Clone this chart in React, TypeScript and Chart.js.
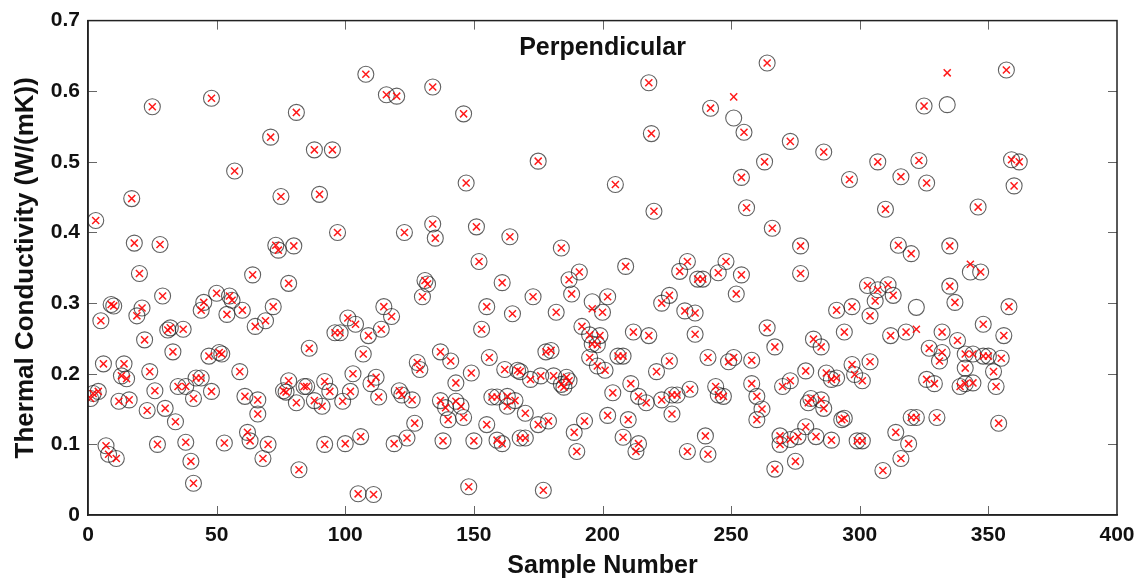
import React, { useEffect, useRef } from "react";
import { Chart, registerables } from "chart.js";

Chart.register(...registerables);

const chartTitle = "Perpendicular";
const xAxisTitle = "Sample Number";
const yAxisTitle = "Thermal Conductivity (W/(mK))";
const xTickMin = 0;
const xTickMax = 400;
const xTickStep = 50;
const yTickMin = 0;
const yTickMax = 0.7;
const yTickStep = 0.1;

const sampleNumbers = [
  1, 2, 3, 4, 5, 6, 7, 8, 9, 10,
  11, 12, 13, 14, 15, 16, 17, 18, 19, 20,
  21, 22, 23, 24, 25, 26, 27, 28, 29, 30,
  31, 32, 33, 34, 35, 37, 38, 38, 40, 41,
  41, 42, 44, 44, 45, 47, 48, 48, 50, 51,
  52, 53, 54, 55, 56, 57, 59, 60, 61, 62,
  63, 64, 65, 66, 66, 68, 69, 70, 71, 72,
  73, 74, 75, 76, 77, 78, 78, 80, 81, 81,
  82, 84, 85, 86, 88, 88, 90, 91, 92, 92,
  94, 95, 96, 97, 98, 99, 100, 101, 102, 103,
  104, 105, 106, 107, 108, 109, 110, 111, 112, 113,
  114, 115, 116, 118, 119, 120, 121, 122, 123, 124,
  126, 127, 128, 129, 130, 131, 132, 134, 134, 135,
  137, 137, 138, 139, 140, 141, 143, 143, 145, 146,
  146, 147, 148, 149, 150, 151, 152, 153, 155, 155,
  156, 157, 159, 159, 161, 161, 162, 163, 163, 164,
  165, 166, 167, 168, 168, 170, 170, 172, 173, 175,
  175, 176, 177, 178, 179, 180, 181, 182, 184, 184,
  185, 186, 187, 187, 188, 189, 190, 191, 192, 193,
  195, 195, 196, 196, 198, 198, 199, 200, 201, 202,
  202, 204, 205, 206, 208, 208, 209, 210, 211, 212,
  213, 214, 214, 217, 218, 218, 219, 220, 221, 223,
  223, 226, 226, 227, 227, 229, 230, 232, 233, 233,
  234, 236, 236, 237, 239, 240, 241, 241, 242, 244,
  245, 245, 247, 248, 249, 251, 251, 252, 254, 254,
  255, 256, 258, 258, 260, 260, 262, 263, 264, 264,
  266, 267, 267, 269, 269, 270, 273, 273, 273, 275,
  276, 277, 277, 279, 279, 280, 281, 282, 283, 285,
  285, 286, 286, 287, 289, 289, 291, 291, 293, 294,
  294, 296, 297, 297, 298, 299, 301, 301, 303, 304,
  304, 306, 307, 307, 309, 310, 311, 312, 313, 314,
  315, 316, 316, 318, 319, 320, 320, 322, 322, 323,
  325, 326, 326, 327, 329, 330, 331, 332, 332, 334,
  335, 335, 337, 338, 339, 341, 341, 341, 343, 344,
  344, 346, 347, 348, 348, 350, 352, 353, 354, 355,
  356, 357, 358, 359, 360, 362,
];

const measured = [
  0.165, 0.172, 0.417, 0.175, 0.275, 0.214, 0.098, 0.086, 0.298, 0.296,
  0.08, 0.161, 0.197, 0.214, 0.193, 0.163, 0.448, 0.385, 0.282, 0.342,
  0.293, 0.248, 0.148, 0.203, 0.578, 0.176, 0.1, 0.383, 0.31, 0.151,
  0.262, 0.265, 0.231, 0.132, 0.182, 0.263, 0.182, 0.103, 0.076, 0.045,
  0.165, 0.194, 0.194, 0.29, 0.301, 0.225, 0.175, 0.59, 0.314, 0.23,
  0.228, 0.102, 0.284, 0.31, 0.304, 0.487, 0.203, 0.29, 0.168, 0.117,
  0.105, 0.34, 0.267, 0.163, 0.143, 0.08, 0.275, 0.1, 0.535, 0.295,
  0.382, 0.375, 0.451, 0.176, 0.174, 0.19, 0.328, 0.381, 0.57, 0.159,
  0.064, 0.182, 0.182, 0.236, 0.517, 0.162, 0.454, 0.154, 0.1, 0.189,
  0.175, 0.517, 0.258, 0.4, 0.258, 0.161, 0.101, 0.279, 0.175, 0.2,
  0.27, 0.03, 0.111, 0.228, 0.624, 0.254, 0.186, 0.029, 0.195, 0.167,
  0.263, 0.295, 0.595, 0.281, 0.101, 0.593, 0.176, 0.17, 0.4, 0.109,
  0.163, 0.13, 0.216, 0.206, 0.309, 0.332, 0.327, 0.606, 0.412, 0.392,
  0.231, 0.162, 0.105, 0.152, 0.135, 0.218, 0.187, 0.161, 0.154, 0.568,
  0.138, 0.47, 0.04, 0.201, 0.105, 0.408, 0.359, 0.263, 0.295, 0.128,
  0.223, 0.167, 0.167, 0.106, 0.101, 0.329, 0.206, 0.168, 0.154, 0.394,
  0.285, 0.162, 0.205, 0.203, 0.109, 0.109, 0.144, 0.192, 0.309, 0.501,
  0.128, 0.197, 0.035, 0.231, 0.133, 0.233, 0.197, 0.287, 0.378, 0.185,
  0.181, 0.195, 0.19, 0.333, 0.313, 0.117, 0.09, 0.344, 0.267, 0.133,
  0.255, 0.223, 0.302, 0.242, 0.241, 0.211, 0.254, 0.287, 0.205, 0.309,
  0.141, 0.173, 0.468, 0.225, 0.225, 0.11, 0.352, 0.135, 0.186, 0.259,
  0.09, 0.168, 0.101, 0.159, 0.254, 0.612, 0.54, 0.43, 0.203, 0.3,
  0.163, 0.311, 0.218, 0.143, 0.17, 0.17, 0.345, 0.289, 0.359, 0.09,
  0.178, 0.286, 0.256, 0.334, 0.334, 0.112, 0.223, 0.086, 0.576, 0.182,
  0.17, 0.343, 0.168, 0.359, 0.217, 0.223, 0.562, 0.313, 0.478, 0.34,
  0.542, 0.435, 0.219, 0.186, 0.168, 0.135, 0.15, 0.5, 0.265, 0.64,
  0.406, 0.238, 0.065, 0.112, 0.1, 0.182, 0.107, 0.529, 0.19, 0.076,
  0.111, 0.381, 0.342, 0.125, 0.204, 0.159, 0.165, 0.249, 0.111, 0.238,
  0.163, 0.514, 0.151, 0.201, 0.192, 0.106, 0.194, 0.29, 0.135, 0.259,
  0.137, 0.475, 0.213, 0.295, 0.199, 0.105, 0.105, 0.19, 0.325, 0.282,
  0.217, 0.303, 0.319, 0.5, 0.063, 0.433, 0.326, 0.254, 0.311, 0.117,
  0.382, 0.479, 0.08, 0.259, 0.101, 0.37, 0.138, 0.138, 0.294, 0.502,
  0.579, 0.47, 0.192, 0.236, 0.186, 0.138, 0.218, 0.259, 0.23, 0.581,
  0.324, 0.381, 0.301, 0.247, 0.182, 0.228, 0.186, 0.208, 0.344, 0.228,
  0.187, 0.436, 0.344, 0.27, 0.225, 0.225, 0.203, 0.182, 0.13, 0.222,
  0.254, 0.63, 0.295, 0.503, 0.466, 0.5,
];

const predicted = [
  0.165, 0.172, 0.417, 0.175, 0.275, 0.214, 0.098, 0.086, 0.298, 0.296,
  0.08, 0.161, 0.197, 0.214, 0.193, 0.163, 0.448, 0.385, 0.282, 0.342,
  0.293, 0.248, 0.148, 0.203, 0.578, 0.176, 0.1, 0.383, 0.31, 0.151,
  0.262, 0.265, 0.231, 0.132, 0.182, 0.263, 0.182, 0.103, 0.076, 0.045,
  0.165, 0.194, 0.194, 0.29, 0.301, 0.225, 0.175, 0.59, 0.314, 0.23,
  0.228, 0.102, 0.284, 0.31, 0.304, 0.487, 0.203, 0.29, 0.168, 0.117,
  0.105, 0.34, 0.267, 0.163, 0.143, 0.08, 0.275, 0.1, 0.535, 0.295,
  0.382, 0.375, 0.451, 0.176, 0.174, 0.19, 0.328, 0.381, 0.57, 0.159,
  0.064, 0.182, 0.182, 0.236, 0.517, 0.162, 0.454, 0.154, 0.1, 0.189,
  0.175, 0.517, 0.258, 0.4, 0.258, 0.161, 0.101, 0.279, 0.175, 0.2,
  0.27, 0.03, 0.111, 0.228, 0.624, 0.254, 0.186, 0.029, 0.195, 0.167,
  0.263, 0.295, 0.595, 0.281, 0.101, 0.593, 0.176, 0.17, 0.4, 0.109,
  0.163, 0.13, 0.216, 0.206, 0.309, 0.332, 0.327, 0.606, 0.412, 0.392,
  0.231, 0.162, 0.105, 0.152, 0.135, 0.218, 0.187, 0.161, 0.154, 0.568,
  0.138, 0.47, 0.04, 0.201, 0.105, 0.408, 0.359, 0.263, 0.295, 0.128,
  0.223, 0.167, 0.167, 0.106, 0.101, 0.329, 0.206, 0.168, 0.154, 0.394,
  0.285, 0.162, 0.205, 0.203, 0.109, 0.109, 0.144, 0.192, 0.309, 0.501,
  0.128, 0.197, 0.035, 0.231, 0.133, 0.233, 0.197, 0.287, 0.378, 0.185,
  0.181, 0.195, 0.19, 0.333, 0.313, 0.117, 0.09, 0.344, 0.267, 0.133,
  0.255, 0.223, 0.292, 0.242, 0.241, 0.211, 0.254, 0.287, 0.205, 0.309,
  0.141, 0.173, 0.468, 0.225, 0.225, 0.11, 0.352, 0.135, 0.186, 0.259,
  0.09, 0.168, 0.101, 0.159, 0.254, 0.612, 0.54, 0.43, 0.203, 0.3,
  0.163, 0.311, 0.218, 0.143, 0.17, 0.17, 0.345, 0.289, 0.359, 0.09,
  0.178, 0.286, 0.256, 0.334, 0.334, 0.112, 0.223, 0.086, 0.576, 0.182,
  0.17, 0.343, 0.168, 0.359, 0.217, 0.223, 0.592, 0.313, 0.478, 0.34,
  0.542, 0.435, 0.219, 0.186, 0.168, 0.135, 0.15, 0.5, 0.265, 0.64,
  0.406, 0.238, 0.065, 0.112, 0.1, 0.182, 0.107, 0.529, 0.19, 0.076,
  0.111, 0.381, 0.342, 0.125, 0.204, 0.159, 0.165, 0.249, 0.111, 0.238,
  0.163, 0.514, 0.151, 0.201, 0.192, 0.106, 0.194, 0.29, 0.135, 0.259,
  0.137, 0.475, 0.213, 0.295, 0.199, 0.105, 0.105, 0.19, 0.325, 0.282,
  0.217, 0.303, 0.319, 0.5, 0.063, 0.433, 0.326, 0.254, 0.311, 0.117,
  0.382, 0.479, 0.08, 0.259, 0.101, 0.37, 0.138, 0.138, 0.263, 0.502,
  0.579, 0.47, 0.192, 0.236, 0.186, 0.138, 0.218, 0.259, 0.23, 0.626,
  0.324, 0.381, 0.301, 0.247, 0.182, 0.228, 0.186, 0.208, 0.355, 0.228,
  0.187, 0.436, 0.344, 0.27, 0.225, 0.225, 0.203, 0.182, 0.13, 0.222,
  0.254, 0.63, 0.295, 0.503, 0.466, 0.5,
];

const FONT = "'Liberation Sans', Arial, Helvetica, sans-serif";

const framePlugin = {
  id: "matlabFrame",
  afterDraw(chart: any) {
    const { ctx, chartArea } = chart;
    const { left, right, top, bottom } = chartArea;
    const xs = chart.scales.x;
    const ys = chart.scales.y;
    const tickLen = 9;
    ctx.save();
    ctx.strokeStyle = "#666";
    ctx.lineWidth = 1;
    xs.ticks.forEach((t: any) => {
      const px = Math.round(xs.getPixelForValue(t.value)) + 0.5;
      if (px <= left + 1 || px >= right - 1) return;
      ctx.beginPath();
      ctx.moveTo(px, bottom);
      ctx.lineTo(px, bottom - tickLen);
      ctx.moveTo(px, top);
      ctx.lineTo(px, top + tickLen);
      ctx.stroke();
    });
    ys.ticks.forEach((t: any) => {
      const py = Math.round(ys.getPixelForValue(t.value)) + 0.5;
      if (py <= top + 1 || py >= bottom - 1) return;
      ctx.beginPath();
      ctx.moveTo(left, py);
      ctx.lineTo(left + tickLen, py);
      ctx.moveTo(right, py);
      ctx.lineTo(right - tickLen, py);
      ctx.stroke();
    });
    ctx.strokeStyle = "#222";
    ctx.lineWidth = 1.5;
    ctx.strokeRect(left, top, right - left, bottom - top);
    ctx.fillStyle = "#111";
    ctx.font = `bold 25px ${FONT}`;
    ctx.textAlign = "center";
    ctx.textBaseline = "middle";
    ctx.fillText(chartTitle, (left + right) / 2, top + 28);
    ctx.restore();
  },
};

export default function App() {
  const canvasRef = useRef<HTMLCanvasElement | null>(null);

  useEffect(() => {
    const canvas = canvasRef.current;
    if (!canvas) return;
    const circles = sampleNumbers.map((s, i) => ({ x: s, y: measured[i] }));
    const crosses = sampleNumbers.map((s, i) => ({ x: s, y: predicted[i] }));
    const chart = new Chart(canvas, {
      type: "scatter",
      data: {
        datasets: [
          {
            label: "Measured",
            data: circles,
            pointStyle: "circle",
            pointRadius: 8,
            pointBorderWidth: 1.1,
            pointBorderColor: "rgba(30,30,30,0.7)",
            pointBackgroundColor: "rgba(0,0,0,0)",
            order: 2,
          },
          {
            label: "Predicted",
            data: crosses,
            pointStyle: "crossRot",
            pointRadius: 5,
            pointBorderWidth: 1.5,
            pointBorderColor: "rgba(255,0,0,0.9)",
            pointBackgroundColor: "rgba(255,0,0,0.9)",
            order: 1,
          },
        ],
      },
      options: {
        animation: false,
        responsive: false,
        devicePixelRatio: 1,
        layout: { padding: { left: 0, top: 20, right: 26, bottom: 0 } },
        plugins: {
          legend: { display: false },
          tooltip: { enabled: false },
          title: { display: false },
        },
        scales: {
          x: {
            type: "linear",
            min: xTickMin,
            max: xTickMax,
            grid: { display: false, drawTicks: false },
            border: { display: true, color: "#222", width: 1.5 },
            ticks: {
              stepSize: xTickStep,
              padding: 8,
              color: "#111",
              font: { family: FONT, size: 21, weight: "bold" },
              maxRotation: 0,
            },
            title: {
              display: true,
              text: xAxisTitle,
              color: "#111",
              font: { family: FONT, size: 25, weight: "bold" },
              padding: { top: 0, bottom: 0 },
            },
            afterFit(scale: any) {
              scale.height = 66;
            },
          },
          y: {
            type: "linear",
            min: yTickMin,
            max: yTickMax,
            grid: { display: false, drawTicks: false },
            border: { display: true, color: "#222", width: 1.5 },
            ticks: {
              stepSize: yTickStep,
              padding: 8,
              color: "#111",
              font: { family: FONT, size: 21, weight: "bold" },
            },
            title: {
              display: true,
              text: yAxisTitle,
              color: "#111",
              font: { family: FONT, size: 26, weight: "bold" },
              padding: { top: 10, bottom: 0 },
            },
            afterFit(scale: any) {
              scale.width = 88;
            },
          },
        },
      },
      plugins: [framePlugin],
    });
    return () => chart.destroy();
  }, []);

  return (
    <div style={{ position: "fixed", left: 0, top: 0, width: 1143, height: 581, background: "#fff" }}>
      <canvas ref={canvasRef} width={1143} height={581} />
    </div>
  );
}
